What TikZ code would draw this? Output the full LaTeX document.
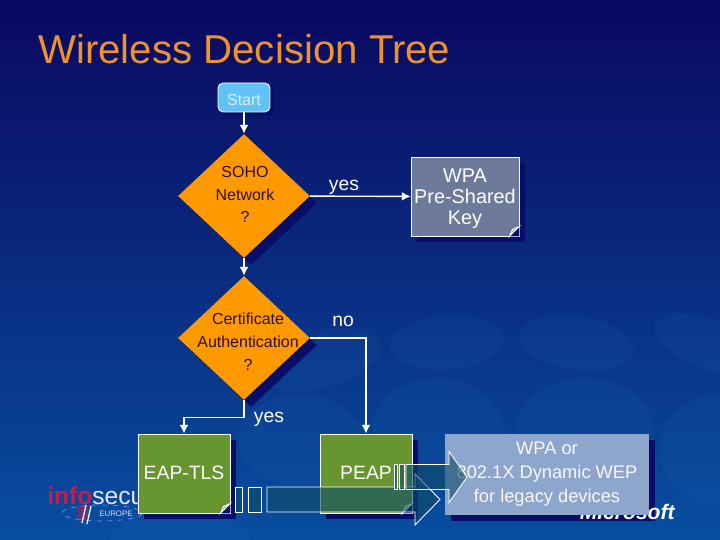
\documentclass[tikz,border=0pt]{standalone}
\usepackage{fontspec}
\setmainfont{Liberation Sans}
\usepackage{xcolor}
\usetikzlibrary{arrows.meta,calc,positioning,shapes.geometric,shadows}
\definecolor{bgtop}{RGB}{10,8,96}
\definecolor{bgbottom}{RGB}{8,78,160}
\definecolor{blobblue}{RGB}{40,110,185}
\definecolor{shadenavy}{RGB}{6,14,104}
\definecolor{titleorange}{RGB}{238,146,44}
\definecolor{decisionfill}{RGB}{255,153,0}
\definecolor{decisiontext}{RGB}{48,16,40}
\definecolor{startfill}{RGB}{96,194,246}
\definecolor{pskfill}{RGB}{110,122,154}
\definecolor{methodfill}{RGB}{103,149,47}
\definecolor{legacyfill}{RGB}{142,166,204}
\definecolor{stripefill}{RGB}{16,76,104}
\definecolor{infored}{RGB}{190,30,80}
\tikzset{
  wire/.style={draw=white,line width=0.8pt,-{Latex[length=5pt,width=5pt]}},
  decision/.style={diamond,fill=decisionfill,inner sep=0pt,minimum width=2.64cm,minimum height=2.48cm,
    copy shadow={shadow xshift=0.14cm,shadow yshift=-0.14cm,fill=shadenavy,draw=none}},
  decisionlabel/.style={align=center,font=\fontsize{9.1}{13}\selectfont,text=decisiontext},
  noterect/.style={rectangle,draw=white,line width=0.5pt,inner sep=0pt,align=center,text=white,
    minimum height=1.58cm,copy shadow={shadow xshift=0.12cm,shadow yshift=-0.12cm,fill=shadenavy,draw=none}},
  branchlabel/.style={text=white,font=\fontsize{11}{13}\selectfont},
}
% fold in the lower right corner of a note
\newcommand{\foldcorner}[2]{%
  \fill[shadenavy] ($(#1.south east)+(0,-10)$) -- (#1.south east) -- ($(#1.south east)+(-10,0)$) -- cycle;
  \fill[#2!60!white] ($(#1.south east)+(0,-10)$) -- ($(#1.south east)+(-7,-7)$) -- ($(#1.south east)+(-10,0)$) -- cycle;
  \draw[white,line width=0.5pt] ($(#1.south east)+(0,-10)$) -- ($(#1.south east)+(-10,0)$) -- ($(#1.south east)+(-7,-7)$) -- cycle;
}
% two stripes, then the arrow: x positions, head start, tip, centre line
\newcommand{\stripedarrow}[8]{%
  \filldraw[draw=white,line width=0.5pt,fill=stripefill,fill opacity=0.6] (#1,#8-12.5) rectangle (#2,#8+12.5);
  \filldraw[draw=white,line width=0.5pt,fill=stripefill,fill opacity=0.6] (#3,#8-12.5) rectangle (#4,#8+12.5);
  \filldraw[draw=white,line width=0.5pt,fill=stripefill,fill opacity=0.6]
    (#5,#8-12.5) -- (#6,#8-12.5) -- (#6,#8-25.5) -- (#7,#8) -- (#6,#8+25.5) -- (#6,#8+12.5) -- (#5,#8+12.5) -- cycle;
}

\begin{document}
\begin{tikzpicture}[x=0.02cm,y=-0.02cm]
  \useasboundingbox (0,0) rectangle (720,540);
  \fill[top color=bgtop,bottom color=bgbottom] (0,0) rectangle (720,540);
  \begin{scope}
    \clip (0,0) rectangle (720,540);
    % pale blobs of the slide background
    \foreach \bx/\by/\brx/\bry/\brot in {447/343/57/27/4,576/343/58/27/-8,320/360/62/28/15,438/430/65/52/0,
      585/430/68/52/0,300/440/62/45/0,720/450/60/55/0,712/345/60/25/-20,180/545/70/40/0} {
      \fill[blobblue,opacity=0.11,rotate around={\brot:(\bx,\by)}] (\bx,\by) ellipse ({\brx} and {\bry});
    }
  \end{scope}
  \node[anchor=west,text=titleorange,font=\fontsize{22.9}{26}\selectfont] (title) at (32,49) {Wireless Decision Tree};

  % logos behind the boxes
  \node[anchor=base west,inner sep=0pt,font=\fontsize{14}{16}\selectfont] (infologo) at (47,504)
    {\textcolor{infored}{\textbf{info}}\textcolor{white!90!blue}{secur}};
  \node[text=white!85!blue,font=\fontsize{4.5}{5}\selectfont] (infoeurope) at (116,514) {EUROPE};
  \draw[white!60!blue,dashed,line width=0.3pt] (102,513) ellipse (40 and 8);
  \fill[infored,opacity=0.5] (78,506) rectangle (88,520);
  \draw[white,line width=0.7pt] (82,523) -- (86,505) (87,524) -- (91,506);
  \fill[shadenavy] (451,440) rectangle (655,521);
  \node[anchor=base east,inner sep=0pt,text=white,font=\fontsize{12}{14}\bfseries\itshape\selectfont] (mslogo) at (675,519) {Microsoft};

  \node[rectangle,rounded corners=3pt,draw=white,line width=0.5pt,fill=startfill,text=white!75!startfill,
    minimum width=1.04cm,minimum height=0.58cm,inner sep=0pt,font=\fontsize{9.1}{11}\selectfont,
    copy shadow={shadow xshift=0.08cm,shadow yshift=-0.08cm,fill=shadenavy,draw=none}] (start) at (244,97.5) {\rule{0pt}{9pt}Start};
  \node[decision] (soho) at (244,196) {};
  \node[decisionlabel] (sohotext) at (245,194.5) {SOHO\\Network\\?};
  \node[decision] (cert) at (244,338) {};
  \node[decisionlabel] (certtext) at (248,342) {Certificate\\Authentication\\?};

  \node[noterect,fill=pskfill,minimum width=2.16cm,font=\fontsize{11.3}{12}\selectfont] (psk) at (465,196.5) {\rule{0pt}{10pt}WPA\\Pre-Shared\\Key};
  \node[noterect,fill=methodfill,minimum width=1.84cm,font=\fontsize{11}{13}\selectfont] (eap) at (184,473.5) {\rule[-1pt]{0pt}{1pt}EAP-TLS};
  \node[noterect,fill=methodfill,minimum width=1.84cm,font=\fontsize{11}{13}\selectfont] (peap) at (366,473.5) {\rule[-1pt]{0pt}{1pt}PEAP};
  \foldcorner{psk}{pskfill}
  \foldcorner{eap}{methodfill}
  \foldcorner{peap}{methodfill}
  \node[rectangle,fill=legacyfill,inner sep=0pt,text=white!92!legacyfill,align=center,minimum width=4.08cm,minimum height=1.62cm,
    font=\fontsize{10.4}{13.6}\selectfont] (legacy) at (547,474.5) {WPA or\\802.1X Dynamic WEP\\for legacy devices};

  \draw[wire] (start) -- (soho);
  \draw[wire] (soho) -- (cert);
  \draw[wire] (soho) -- (psk);
  \draw[wire] (cert.east) -| (peap.north);
  \draw[wire] (cert.south) -- ++(0,17) -| (eap.north);

  \node[branchlabel] (sohoyes) at (344,187) {yes};
  \node[branchlabel] (certno) at (343,321) {no};
  \node[branchlabel] (certyes) at (269,419) {yes};

  \stripedarrow{235}{242}{248}{261}{267}{415}{440}{499.5}
  \stripedarrow{394}{397}{399}{404}{406}{449}{467}{477}
\end{tikzpicture}
\end{document}
